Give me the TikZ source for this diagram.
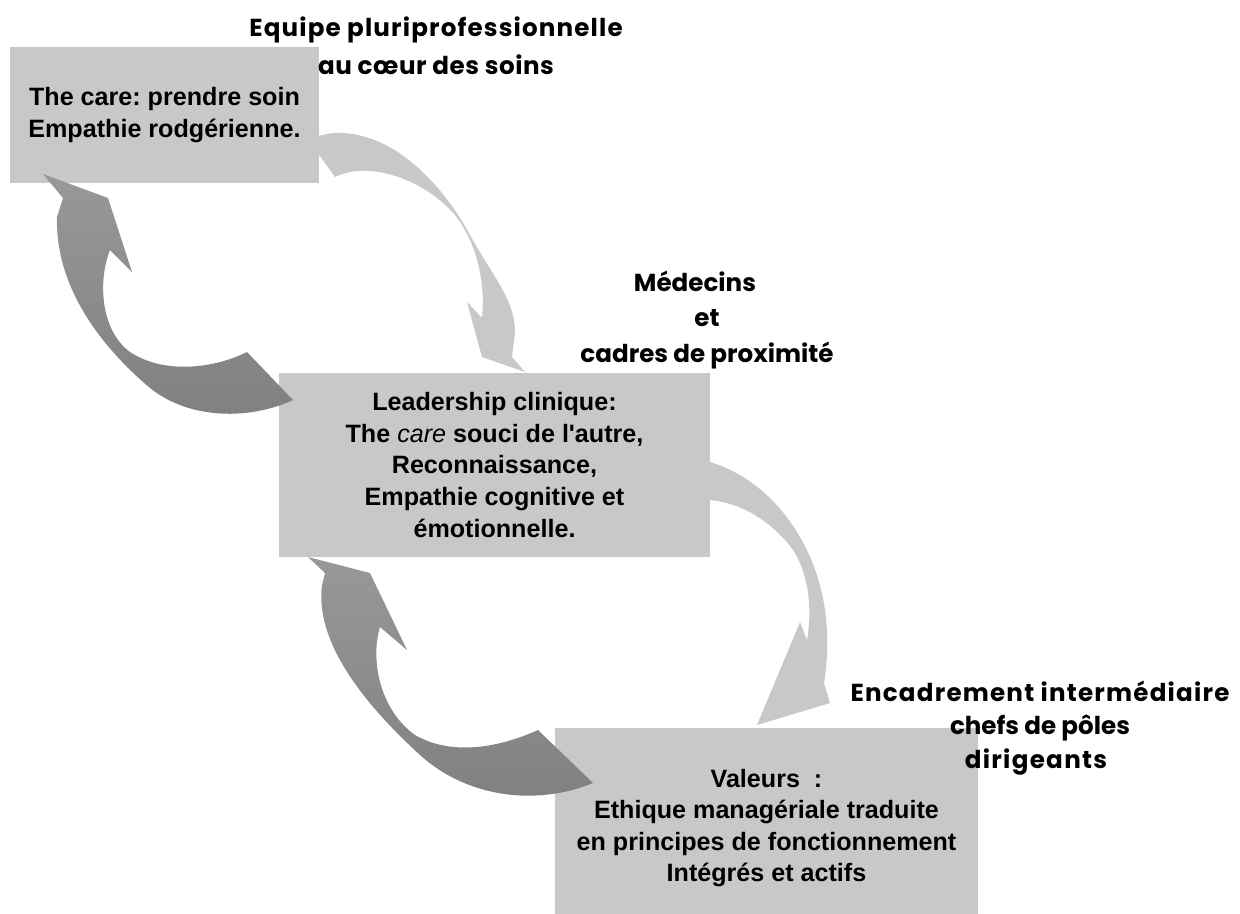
\documentclass[tikz,border=0pt]{standalone}
\usepackage{fontspec}
\setmainfont{Liberation Sans}
\newfontfamily\lblfont{Poppins}
\newcommand\spaced[2]{{\addfontfeature{LetterSpace=#1}#2}}
\usetikzlibrary{calc}
\frenchspacing

\definecolor{boxgray}{RGB}{200,200,200}
\definecolor{darktop}{RGB}{152,152,152}
\definecolor{darkbot}{RGB}{128,128,128}

\begin{document}
\begin{tikzpicture}[x=0.02cm, y=-0.02cm,
        box/.style={fill=boxgray, inner sep=0pt, align=center, font=\bfseries\fontsize{14.3}{18}\selectfont},
        lbl/.style={align=center, font=\lblfont\bfseries\fontsize{14}{20}\selectfont}]
        \useasboundingbox (0,0) rectangle (1240,913);
        \node[box, minimum width=6.18cm, minimum height=2.72cm] (Care) at (164.5,115) {The care: prendre soin\\Empathie rodgérienne.};
        \node[box, minimum width=8.62cm, minimum height=3.68cm] (Lead) at (494.5,465) {Leadership clinique:\\The {\mdseries\itshape care} souci de l\textquotesingle autre,\\Reconnaissance,\\Empathie cognitive et\\émotionnelle.};
        \node[box, minimum width=8.46cm, minimum height=4cm] (Val) at (766.5,828) {Valeurs~~:\\Ethique managériale traduite\\en principes de fonctionnement\\Intégrés et actifs};
        \fill[boxgray] (307,138) -- (333,133) .. controls (390,130) and (440,180) .. (470,235) .. controls (495,280) and (515,300) .. (515,333) -- (512,357) -- (525,372) -- (482,357) -- (467,302) -- (482,318) .. controls (486,280) and (475,240) .. (455,215) .. controls (425,180) and (370,160) .. (335,177) -- cycle;
        \fill[boxgray] (710,462) .. controls (770,480) and (815,540) .. (825,610) .. controls (829,640) and (827,665) .. (824,683) -- (830,703) -- (757,725) -- (800,622) -- (807,640) .. controls (814,600) and (805,560) .. (785,540) .. controls (765,518) and (740,503) .. (710,500) -- cycle;
        \shade[top color=darktop, bottom color=darkbot] (43,174) -- (108,198) -- (132,272) -- (110,250) .. controls (98,280) and (100,330) .. (130,352) .. controls (165,375) and (215,368) .. (247,352) -- (293,400) .. controls (250,420) and (190,420) .. (150,388) .. controls (105,350) and (55,290) .. (57,217) -- (63,198) -- cycle;
        \shade[top color=darktop, bottom color=darkbot] (308,557) -- (370,573) -- (407,650) -- (380,627) .. controls (370,660) and (380,710) .. (415,735) .. controls (455,758) and (505,745) .. (538,730) -- (593,783) .. controls (540,805) and (470,800) .. (420,755) .. controls (360,700) and (315,640) .. (322,585) -- (325,573) -- cycle;
        \node[lbl, font=\lblfont\bfseries\fontsize{14}{21.6}\selectfont] (Equipe) at (436,46) {\spaced{4.7}{Equipe pluriprofessionnelle}\\\spaced{2.1}{au cœur des soins}};
        \node[lbl] (Medecins) at (707,320) {Médecins\hspace*{0.48cm}\\et\hspace*{0.32cm}\\cadres de proximité};
        \node[lbl, font=\lblfont\bfseries\fontsize{14}{19}\selectfont] (Encadr) at (1040,728) {\spaced{4.9}{Encadrement intermédiaire}\\chefs de pôles\hspace*{0.56cm}\\\spaced{5.3}{dirigeants}\hspace*{0.16cm}};
\end{tikzpicture}
\end{document}
